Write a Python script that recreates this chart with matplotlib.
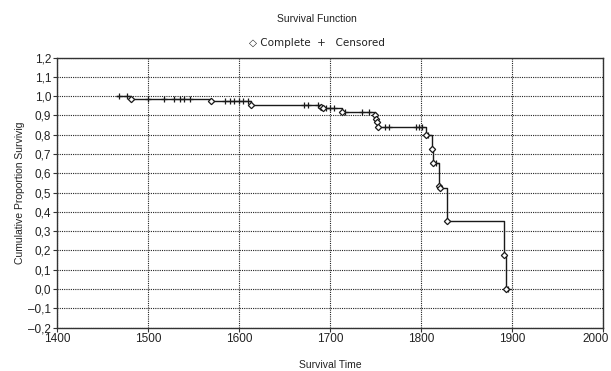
import numpy as np
import matplotlib
matplotlib.use("Agg")
from matplotlib import pyplot as plt
from matplotlib import transforms
from matplotlib.ticker import FuncFormatter, MultipleLocator

plt.rcParams['font.family'] = ['Liberation Sans', 'DejaVu Sans']

# event (complete) times and the survival level after each event
complete_t = [1481, 1569, 1613, 1690, 1692, 1713, 1749, 1751, 1752, 1753,
              1805, 1812, 1813, 1820, 1821, 1829, 1891, 1893]
complete_s = [0.985, 0.972, 0.955, 0.945, 0.938, 0.918, 0.90, 0.88, 0.865, 0.84,
              0.80, 0.725, 0.655, 0.535, 0.525, 0.35, 0.175, 0.0]

# censored times
censored_t = [1468, 1477, 1500, 1518, 1529, 1535, 1540, 1546, 1585, 1590,
              1595, 1600, 1605, 1610, 1672, 1676, 1687, 1696, 1700, 1705,
              1717, 1735, 1743, 1760, 1765, 1794, 1798, 1801, 1808, 1817, 1896]

start_t = 1466
start_s = 1.0

step_t = np.array([start_t] + complete_t + [1897])
step_s = np.array([start_s] + complete_s + [complete_s[-1]])


def surv_at(t):
    i = np.searchsorted(step_t, t, side='right') - 1
    return step_s[i]


cens_s = [surv_at(t) for t in censored_t]

fig = plt.figure(figsize=(6.11, 3.71), dpi=100)
ax = fig.add_axes([0.093, 0.117, 0.894, 0.728])

ax.step(step_t, step_s, where='post', color='#1a1a1a', lw=1.0, zorder=3)
ax.plot(censored_t, cens_s, '+', color='#1a1a1a', ms=5, mew=0.9, zorder=4)
ax.plot(complete_t, complete_s, 'D', color='#1a1a1a', mfc='white', ms=3.2, mew=0.9, zorder=5)

ax.set_xlim(1400, 2000)
ax.set_ylim(-0.2, 1.2)
ax.set_xticks([1400, 1500, 1600, 1700, 1800, 1900, 2000])
ax.yaxis.set_major_locator(MultipleLocator(0.1))


def comma(v, pos):
    s = '%.1f' % v
    if s == '-0.0':
        s = '0.0'
    return s.replace('.', ',').replace('-', '\u2013')


ax.yaxis.set_major_formatter(FuncFormatter(comma))
ax.grid(True, color='#222222', linestyle=(0, (1, 1)), lw=0.8)
for sp in ax.spines.values():
    sp.set_color('#333333')
    sp.set_linewidth(1.0)
ax.tick_params(labelsize=8.5, length=3, width=0.8, color='#333333', labelcolor='#222222', pad=1)

# pull the last x label in so it stays inside the picture
last = ax.get_xticklabels()[-1]
last.set_transform(last.get_transform() + transforms.ScaledTranslation(-0.07, 0, fig.dpi_scale_trans))

ax.set_xlabel('Survival Time', fontsize=7.5, color='#222222', labelpad=11)
ax.set_ylabel('Cumulative Proportion Survivig', fontsize=7.5, color='#222222', labelpad=2)

fig.text(0.519, 0.948, 'Survival Function', ha='center', va='center', fontsize=7.5, color='#222222')
fig.text(0.519, 0.884, '\u25C7 Complete  +   Censored', ha='center', va='center', fontsize=7.5,
         color='#222222', family=['DejaVu Sans'])

fig.savefig('out.png', dpi=100)
